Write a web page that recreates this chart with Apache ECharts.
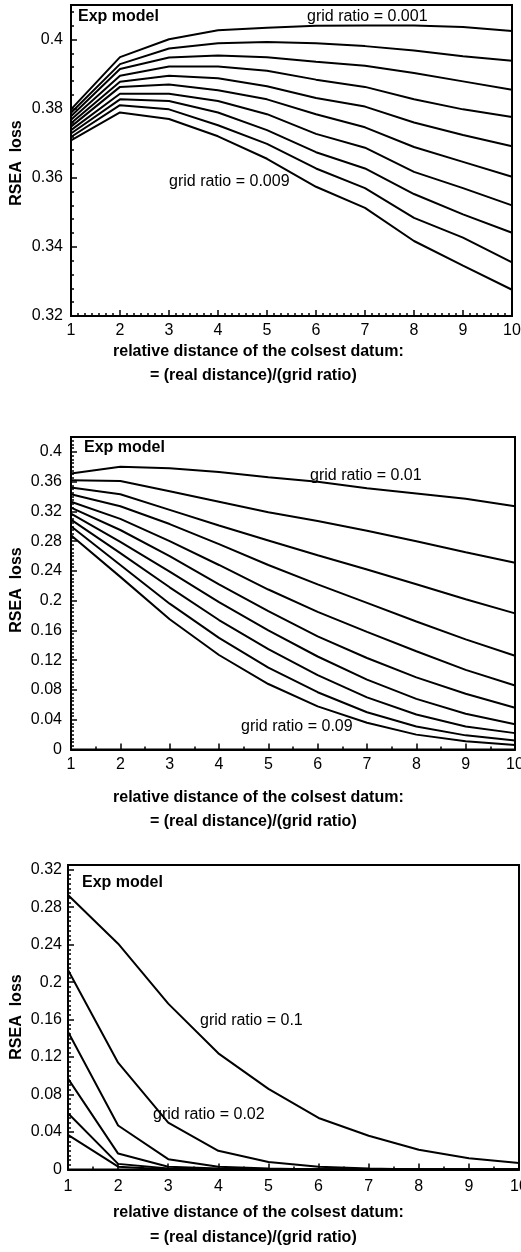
<!DOCTYPE html>
<html>
<head>
<meta charset="utf-8">
<script src="https://cdn.jsdelivr.net/npm/echarts@6/dist/echarts.min.js"></script>
<style>
  html, body { margin: 0; padding: 0; background: #fff; }
  #chart { width: 521px; height: 1252px; }
</style>
</head>
<body>
<div id="chart"></div>
<script>
// relative distance of the closest datum (x axis, shared by all panels)
const distances = [1, 2, 3, 4, 5, 6, 7, 8, 9, 10];

// Panel A: grid ratio 0.001 (top) ... 0.009 (bottom)
const lossA = [
  [0.3798, 0.3949, 0.4001, 0.4027, 0.4034, 0.4040, 0.4041, 0.4041, 0.4036, 0.4025],
  [0.3788, 0.3929, 0.3974, 0.3989, 0.3993, 0.3989, 0.3981, 0.3968, 0.3952, 0.3939],
  [0.3778, 0.3915, 0.3948, 0.3954, 0.3949, 0.3936, 0.3924, 0.3903, 0.3879, 0.3855],
  [0.3768, 0.3895, 0.3922, 0.3922, 0.3910, 0.3884, 0.3863, 0.3827, 0.3798, 0.3776],
  [0.3758, 0.3878, 0.3895, 0.3888, 0.3865, 0.3831, 0.3806, 0.3760, 0.3724, 0.3691],
  [0.3748, 0.3863, 0.3870, 0.3853, 0.3827, 0.3784, 0.3746, 0.3689, 0.3646, 0.3603],
  [0.3738, 0.3843, 0.3843, 0.3822, 0.3784, 0.3727, 0.3687, 0.3617, 0.3570, 0.3520],
  [0.3728, 0.3827, 0.3822, 0.3789, 0.3738, 0.3674, 0.3627, 0.3553, 0.3494, 0.3441],
  [0.3718, 0.3810, 0.3798, 0.3752, 0.3698, 0.3627, 0.3570, 0.3484, 0.3427, 0.3355],
  [0.3708, 0.3789, 0.3770, 0.3720, 0.3655, 0.3574, 0.3513, 0.3417, 0.3346, 0.3276]
];

// Panel B: grid ratio 0.01 (top) ... 0.09 (bottom)
const lossB = [
  [0.371, 0.380, 0.378, 0.373, 0.366, 0.360, 0.351, 0.344, 0.337, 0.327],
  [0.362, 0.361, 0.347, 0.333, 0.319, 0.307, 0.294, 0.280, 0.265, 0.251],
  [0.352, 0.343, 0.322, 0.301, 0.281, 0.261, 0.242, 0.222, 0.202, 0.183],
  [0.343, 0.327, 0.303, 0.276, 0.248, 0.222, 0.197, 0.172, 0.148, 0.126],
  [0.333, 0.310, 0.280, 0.248, 0.215, 0.185, 0.158, 0.132, 0.107, 0.086],
  [0.325, 0.295, 0.260, 0.222, 0.186, 0.152, 0.123, 0.097, 0.075, 0.056],
  [0.317, 0.279, 0.239, 0.198, 0.160, 0.125, 0.094, 0.068, 0.048, 0.034],
  [0.309, 0.264, 0.218, 0.174, 0.135, 0.100, 0.070, 0.047, 0.031, 0.022],
  [0.300, 0.248, 0.196, 0.150, 0.110, 0.077, 0.050, 0.031, 0.019, 0.012],
  [0.288, 0.232, 0.175, 0.127, 0.088, 0.058, 0.036, 0.020, 0.011, 0.006]
];

// Panel C: grid ratio 0.1 (top), 0.02, and the finer ratios below
const lossC = [
  [0.293, 0.241, 0.177, 0.124, 0.086, 0.055, 0.036, 0.021, 0.012, 0.007],
  [0.213, 0.114, 0.050, 0.020, 0.008, 0.003, 0.001, 0.000, 0.000, 0.000],
  [0.147, 0.047, 0.011, 0.003, 0.001, 0.000, 0.000, 0.000, 0.000, 0.000],
  [0.097, 0.017, 0.003, 0.001, 0.000, 0.000, 0.000, 0.000, 0.000, 0.000],
  [0.060, 0.006, 0.001, 0.000, 0.000, 0.000, 0.000, 0.000, 0.000, 0.000],
  [0.037, 0.003, 0.000, 0.000, 0.000, 0.000, 0.000, 0.000, 0.000, 0.000]
];

const xTitle1 = 'relative distance of the colsest datum:';
const xTitle2 = '= (real distance)/(grid ratio)';
const yTitle = 'RSEA  loss';
const modelName = 'Exp model';

const FONT = '"Liberation Sans", Arial, Helvetica, sans-serif';

const chart = echarts.init(document.getElementById('chart'), null, { renderer: 'canvas' });

const panels = [
  { grid: { left: 71, top: 5, width: 441, height: 311 }, y: { min: 0.32, max: 0.41, interval: 0.02, minor: 5 }, xMinor: 7, xMargin: 7, yMargin: 8, data: lossA,
    titleY: [352, 376], yNameY: 163,
    notes: [[modelName, 78, 17, true], ['grid ratio = 0.001', 307, 17, false], ['grid ratio = 0.009', 169, 182, false]] },
  { grid: { left: 71, top: 437, width: 444, height: 312.5 }, y: { min: 0, max: 0.42, interval: 0.04, minor: 8 }, xMinor: 2, xMargin: 7, yMargin: 9, data: lossB,
    titleY: [798, 822], yNameY: 590,
    notes: [[modelName, 84, 448, true], ['grid ratio = 0.01', 310, 476, false], ['grid ratio = 0.09', 241, 727, false]] },
  { grid: { left: 68, top: 865, width: 451, height: 304.5 }, y: { min: 0, max: 0.325, interval: 0.04, minor: 8 }, xMinor: 2, xMargin: 9, yMargin: 6, data: lossC,
    titleY: [1213, 1238], yNameY: 1017,
    notes: [[modelName, 82, 883, true], ['grid ratio = 0.1', 200, 1021, false], ['grid ratio = 0.02', 153, 1115, false]] }
];

const grids = [], xAxes = [], yAxes = [], series = [], graphics = [];

panels.forEach((p, i) => {
  grids.push(Object.assign({
    show: true, borderColor: '#000', borderWidth: 2, backgroundColor: 'transparent',
    containLabel: false, outerBoundsMode: 'none'
  }, p.grid));
  xAxes.push({
    type: 'value', gridIndex: i, min: 1, max: 10, interval: 1,
    axisLine: { show: true, onZero: false, lineStyle: { color: '#000', width: 2 } },
    axisTick: { show: true, inside: true, length: 6, lineStyle: { color: '#000', width: 1.5 } },
    minorTick: { show: true, splitNumber: p.xMinor, length: 3, lineStyle: { color: '#000', width: 1.5 } },
    axisLabel: { color: '#000', fontFamily: FONT, fontSize: 16, margin: p.xMargin, hideOverlap: false },
    splitLine: { show: false }
  });
  yAxes.push({
    type: 'value', gridIndex: i, min: p.y.min, max: p.y.max, interval: p.y.interval,
    axisLine: { show: true, onZero: false, lineStyle: { color: '#000', width: 2 } },
    axisTick: { show: true, inside: true, length: 6, lineStyle: { color: '#000', width: 1.5 } },
    minorTick: { show: true, splitNumber: p.y.minor, length: 3, lineStyle: { color: '#000', width: 1.5 } },
    axisLabel: { color: '#000', fontFamily: FONT, fontSize: 16, margin: p.yMargin, showMaxLabel: false,
      formatter: v => String(+v.toFixed(3)) },
    splitLine: { show: false }
  });
  p.data.forEach(vals => {
    series.push({
      type: 'line', xAxisIndex: i, yAxisIndex: i, symbol: 'none', silent: true,
      lineStyle: { color: '#000', width: 2 },
      data: distances.map((d, k) => [d, vals[k]])
    });
  });
  graphics.push({ type: 'text', x: 113, y: p.titleY[0], style: { text: xTitle1, font: 'bold 16px ' + FONT, fill: '#000', textVerticalAlign: 'middle' } });
  graphics.push({ type: 'text', x: 150, y: p.titleY[1], style: { text: xTitle2, font: 'bold 16px ' + FONT, fill: '#000', textVerticalAlign: 'middle' } });
  graphics.push({ type: 'text', x: 17, y: p.yNameY, rotation: Math.PI / 2, style: { text: yTitle, font: 'bold 16px ' + FONT, fill: '#000', textAlign: 'center', textVerticalAlign: 'middle' } });
  p.notes.forEach(n => {
    graphics.push({ type: 'text', x: n[1], y: n[2], style: { text: n[0], font: (n[3] ? 'bold ' : '') + '16px ' + FONT, fill: '#000', textVerticalAlign: 'middle' } });
  });
});

chart.setOption({
  animation: false,
  backgroundColor: '#fff',
  grid: grids,
  xAxis: xAxes,
  yAxis: yAxes,
  series: series,
  graphic: graphics
});
</script>
</body>
</html>
